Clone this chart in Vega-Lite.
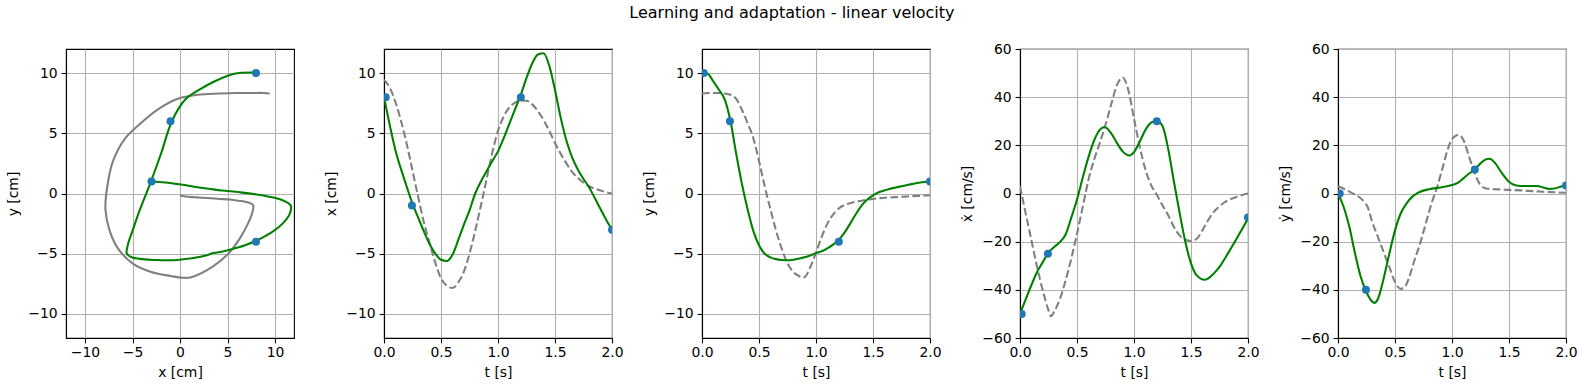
{
  "$schema": "https://vega.github.io/schema/vega-lite/v6.json",
  "padding": {"left": 6, "top": 5, "right": 5, "bottom": 5},
  "title": {"text": "Learning and adaptation - linear velocity", "font": "DejaVu Sans", "fontSize": 16, "fontWeight": "normal", "color": "black", "anchor": "middle", "frame": "bounds", "offset": 20},
  "config": {
    "view": {"stroke": "black", "strokeWidth": 1.1},
    "axis": {"grid": true, "gridColor": "#b0b0b0", "gridWidth": 1.1, "domainColor": "black", "domainWidth": 1.1, "tickColor": "black", "tickSize": 4.9, "tickWidth": 1.1, "labelFont": "DejaVu Sans", "labelFontSize": 13.9, "labelColor": "black", "labelPadding": 4, "labelFlush": false, "labelOverlap": false, "labelBound": false, "titleFont": "DejaVu Sans", "titleFontSize": 13.9, "titleFontWeight": "normal", "titleColor": "black", "titlePadding": 5},
    "axisX": {"labelPadding": 2.5, "titlePadding": 6},
    "axisY": {"titlePadding": 7}
  },
  "datasets": {
    "pos": [
      {"s":"fit","t":0.00,"x":8.0,"y":10.05},{"s":"fit","t":0.05,"x":5.7,"y":9.95},{"s":"fit","t":0.10,"x":3.6,"y":9.3},{"s":"fit","t":0.15,"x":2.0,"y":8.6},{"s":"fit","t":0.20,"x":0.55,"y":7.8},{"s":"fit","t":0.25,"x":-0.85,"y":6.0},{"s":"fit","t":0.30,"x":-2.0,"y":3.3},{"s":"fit","t":0.35,"x":-3.15,"y":0.8},{"s":"fit","t":0.40,"x":-4.2,"y":-1.3},{"s":"fit","t":0.45,"x":-5.0,"y":-3.1},{"s":"fit","t":0.50,"x":-5.5,"y":-4.3},{"s":"fit","t":0.55,"x":-5.6,"y":-5.0},{"s":"fit","t":0.60,"x":-5.1,"y":-5.3},{"s":"fit","t":0.65,"x":-3.9,"y":-5.45},{"s":"fit","t":0.70,"x":-2.6,"y":-5.52},{"s":"fit","t":0.75,"x":-1.4,"y":-5.55},{"s":"fit","t":0.80,"x":0.0,"y":-5.5},{"s":"fit","t":0.85,"x":1.0,"y":-5.4},{"s":"fit","t":0.90,"x":1.85,"y":-5.3},{"s":"fit","t":0.95,"x":2.7,"y":-5.15},{"s":"fit","t":1.00,"x":3.5,"y":-4.95},{"s":"fit","t":1.05,"x":4.6,"y":-4.8},{"s":"fit","t":1.10,"x":5.8,"y":-4.55},{"s":"fit","t":1.15,"x":7.0,"y":-4.25},{"s":"fit","t":1.20,"x":8.2,"y":-3.85},{"s":"fit","t":1.25,"x":9.6,"y":-3.25},{"s":"fit","t":1.30,"x":10.8,"y":-2.5},{"s":"fit","t":1.35,"x":11.55,"y":-1.7},{"s":"fit","t":1.40,"x":11.65,"y":-1.0},{"s":"fit","t":1.45,"x":10.6,"y":-0.5},{"s":"fit","t":1.50,"x":8.6,"y":-0.15},{"s":"fit","t":1.55,"x":6.3,"y":0.1},{"s":"fit","t":1.60,"x":4.4,"y":0.25},{"s":"fit","t":1.65,"x":3.0,"y":0.4},{"s":"fit","t":1.70,"x":2.0,"y":0.5},{"s":"fit","t":1.75,"x":1.2,"y":0.6},{"s":"fit","t":1.80,"x":0.5,"y":0.7},{"s":"fit","t":1.85,"x":-0.4,"y":0.8},{"s":"fit","t":1.90,"x":-1.3,"y":0.9},{"s":"fit","t":1.95,"x":-2.2,"y":0.95},{"s":"fit","t":2.00,"x":-3.0,"y":1.0},
      {"s":"demo","t":0.00,"x":9.45,"y":8.3},{"s":"demo","t":0.05,"x":8.8,"y":8.35},{"s":"demo","t":0.10,"x":7.6,"y":8.35},{"s":"demo","t":0.15,"x":6.0,"y":8.35},{"s":"demo","t":0.20,"x":4.1,"y":8.3},{"s":"demo","t":0.25,"x":1.9,"y":8.2},{"s":"demo","t":0.30,"x":-0.3,"y":7.85},{"s":"demo","t":0.35,"x":-2.4,"y":6.95},{"s":"demo","t":0.40,"x":-4.1,"y":5.85},{"s":"demo","t":0.45,"x":-5.75,"y":4.6},{"s":"demo","t":0.50,"x":-7.05,"y":2.7},{"s":"demo","t":0.55,"x":-7.65,"y":0.6},{"s":"demo","t":0.60,"x":-7.85,"y":-1.3},{"s":"demo","t":0.65,"x":-7.4,"y":-3.1},{"s":"demo","t":0.70,"x":-6.5,"y":-4.6},{"s":"demo","t":0.75,"x":-5.0,"y":-5.8},{"s":"demo","t":0.80,"x":-3.1,"y":-6.5},{"s":"demo","t":0.85,"x":-1.0,"y":-6.85},{"s":"demo","t":0.88,"x":0.3,"y":-7.0},{"s":"demo","t":0.90,"x":1.2,"y":-6.95},{"s":"demo","t":0.95,"x":3.4,"y":-6.1},{"s":"demo","t":1.00,"x":5.2,"y":-4.9},{"s":"demo","t":1.05,"x":6.4,"y":-3.6},{"s":"demo","t":1.10,"x":7.15,"y":-2.5},{"s":"demo","t":1.15,"x":7.55,"y":-1.75},{"s":"demo","t":1.20,"x":7.7,"y":-1.25},{"s":"demo","t":1.25,"x":7.7,"y":-0.95},{"s":"demo","t":1.30,"x":7.4,"y":-0.8},{"s":"demo","t":1.35,"x":6.85,"y":-0.68},{"s":"demo","t":1.40,"x":6.1,"y":-0.6},{"s":"demo","t":1.45,"x":5.2,"y":-0.5},{"s":"demo","t":1.50,"x":4.2,"y":-0.45},{"s":"demo","t":1.55,"x":3.3,"y":-0.4},{"s":"demo","t":1.60,"x":2.5,"y":-0.35},{"s":"demo","t":1.65,"x":1.8,"y":-0.32},{"s":"demo","t":1.70,"x":1.3,"y":-0.3},{"s":"demo","t":1.75,"x":0.9,"y":-0.27},{"s":"demo","t":1.80,"x":0.6,"y":-0.25},{"s":"demo","t":1.85,"x":0.4,"y":-0.22},{"s":"demo","t":1.90,"x":0.25,"y":-0.2},{"s":"demo","t":1.95,"x":0.1,"y":-0.17},{"s":"demo","t":2.00,"x":0.0,"y":-0.15}
    ],
    "vx": [
      {"s":"fit","t":0.00,"v":-50},{"s":"fit","t":0.05,"v":-44},{"s":"fit","t":0.10,"v":-38},{"s":"fit","t":0.15,"v":-32.6},{"s":"fit","t":0.20,"v":-28.5},{"s":"fit","t":0.25,"v":-24.5},{"s":"fit","t":0.30,"v":-22.2},{"s":"fit","t":0.35,"v":-20.2},{"s":"fit","t":0.40,"v":-17},{"s":"fit","t":0.45,"v":-10},{"s":"fit","t":0.50,"v":-2.5},{"s":"fit","t":0.55,"v":6.5},{"s":"fit","t":0.60,"v":15},{"s":"fit","t":0.65,"v":22},{"s":"fit","t":0.70,"v":26.4},{"s":"fit","t":0.74,"v":27.6},{"s":"fit","t":0.80,"v":25},{"s":"fit","t":0.85,"v":21},{"s":"fit","t":0.90,"v":17.5},{"s":"fit","t":0.96,"v":15.8},{"s":"fit","t":1.00,"v":17.2},{"s":"fit","t":1.05,"v":21.5},{"s":"fit","t":1.10,"v":26.4},{"s":"fit","t":1.15,"v":29.4},{"s":"fit","t":1.20,"v":30.2},{"s":"fit","t":1.25,"v":28},{"s":"fit","t":1.30,"v":18.5},{"s":"fit","t":1.35,"v":5},{"s":"fit","t":1.40,"v":-8},{"s":"fit","t":1.45,"v":-20},{"s":"fit","t":1.50,"v":-29},{"s":"fit","t":1.55,"v":-34},{"s":"fit","t":1.62,"v":-35.8},{"s":"fit","t":1.70,"v":-33.2},{"s":"fit","t":1.75,"v":-30.5},{"s":"fit","t":1.80,"v":-26.8},{"s":"fit","t":1.85,"v":-22.8},{"s":"fit","t":1.90,"v":-18.8},{"s":"fit","t":1.95,"v":-14.6},{"s":"fit","t":2.00,"v":-10.4},
      {"s":"demo","t":0.00,"v":3},{"s":"demo","t":0.05,"v":-8.3},{"s":"demo","t":0.10,"v":-19.4},{"s":"demo","t":0.15,"v":-30.5},{"s":"demo","t":0.20,"v":-40.3},{"s":"demo","t":0.25,"v":-48.5},{"s":"demo","t":0.27,"v":-51},{"s":"demo","t":0.30,"v":-49},{"s":"demo","t":0.35,"v":-43.8},{"s":"demo","t":0.40,"v":-36.1},{"s":"demo","t":0.45,"v":-27},{"s":"demo","t":0.50,"v":-16.7},{"s":"demo","t":0.55,"v":-5.6},{"s":"demo","t":0.60,"v":5.6},{"s":"demo","t":0.65,"v":14},{"s":"demo","t":0.70,"v":21},{"s":"demo","t":0.75,"v":28.5},{"s":"demo","t":0.80,"v":37},{"s":"demo","t":0.85,"v":45},{"s":"demo","t":0.90,"v":48.2},{"s":"demo","t":0.95,"v":43},{"s":"demo","t":1.00,"v":31},{"s":"demo","t":1.05,"v":19.5},{"s":"demo","t":1.10,"v":10},{"s":"demo","t":1.15,"v":3.5},{"s":"demo","t":1.20,"v":-0.5},{"s":"demo","t":1.25,"v":-4.9},{"s":"demo","t":1.30,"v":-9},{"s":"demo","t":1.35,"v":-13.9},{"s":"demo","t":1.40,"v":-17.4},{"s":"demo","t":1.45,"v":-19.2},{"s":"demo","t":1.50,"v":-19.7},{"s":"demo","t":1.55,"v":-18.8},{"s":"demo","t":1.60,"v":-15.3},{"s":"demo","t":1.65,"v":-11.1},{"s":"demo","t":1.70,"v":-7.6},{"s":"demo","t":1.75,"v":-5.3},{"s":"demo","t":1.80,"v":-3.5},{"s":"demo","t":1.85,"v":-2.3},{"s":"demo","t":1.90,"v":-1.4},{"s":"demo","t":1.95,"v":-0.6},{"s":"demo","t":2.00,"v":0}
    ],
    "vy": [
      {"s":"fit","t":0.00,"v":0},{"s":"fit","t":0.05,"v":-5.6},{"s":"fit","t":0.10,"v":-13.9},{"s":"fit","t":0.15,"v":-25},{"s":"fit","t":0.20,"v":-34.7},{"s":"fit","t":0.25,"v":-41},{"s":"fit","t":0.30,"v":-44.9},{"s":"fit","t":0.32,"v":-45.4},{"s":"fit","t":0.35,"v":-43.8},{"s":"fit","t":0.40,"v":-35.4},{"s":"fit","t":0.45,"v":-25},{"s":"fit","t":0.50,"v":-15.3},{"s":"fit","t":0.55,"v":-8.3},{"s":"fit","t":0.60,"v":-4.2},{"s":"fit","t":0.65,"v":-1.4},{"s":"fit","t":0.70,"v":0.3},{"s":"fit","t":0.80,"v":1.8},{"s":"fit","t":0.90,"v":2.5},{"s":"fit","t":1.00,"v":3.5},{"s":"fit","t":1.05,"v":4.4},{"s":"fit","t":1.10,"v":6.3},{"s":"fit","t":1.15,"v":8.3},{"s":"fit","t":1.20,"v":10},{"s":"fit","t":1.25,"v":12.5},{"s":"fit","t":1.30,"v":14.2},{"s":"fit","t":1.33,"v":14.4},{"s":"fit","t":1.38,"v":12.5},{"s":"fit","t":1.43,"v":9},{"s":"fit","t":1.50,"v":4.9},{"s":"fit","t":1.55,"v":3.5},{"s":"fit","t":1.60,"v":3.1},{"s":"fit","t":1.70,"v":3.1},{"s":"fit","t":1.75,"v":3.1},{"s":"fit","t":1.80,"v":2.5},{"s":"fit","t":1.85,"v":1.9},{"s":"fit","t":1.90,"v":2.1},{"s":"fit","t":1.95,"v":2.8},{"s":"fit","t":2.00,"v":3.5},
      {"s":"demo","t":0.00,"v":3},{"s":"demo","t":0.05,"v":2},{"s":"demo","t":0.10,"v":0.8},{"s":"demo","t":0.15,"v":-0.5},{"s":"demo","t":0.20,"v":-2},{"s":"demo","t":0.23,"v":-3.5},{"s":"demo","t":0.26,"v":-5.6},{"s":"demo","t":0.30,"v":-11.8},{"s":"demo","t":0.35,"v":-18},{"s":"demo","t":0.40,"v":-24.3},{"s":"demo","t":0.45,"v":-30.5},{"s":"demo","t":0.50,"v":-36.8},{"s":"demo","t":0.55,"v":-39.6},{"s":"demo","t":0.58,"v":-39.2},{"s":"demo","t":0.62,"v":-35.4},{"s":"demo","t":0.67,"v":-27.8},{"s":"demo","t":0.72,"v":-20.8},{"s":"demo","t":0.77,"v":-12.5},{"s":"demo","t":0.82,"v":-4.2},{"s":"demo","t":0.87,"v":2.8},{"s":"demo","t":0.92,"v":11.1},{"s":"demo","t":0.97,"v":19.4},{"s":"demo","t":1.02,"v":23.6},{"s":"demo","t":1.06,"v":24.3},{"s":"demo","t":1.10,"v":22.2},{"s":"demo","t":1.15,"v":15.3},{"s":"demo","t":1.20,"v":8.3},{"s":"demo","t":1.25,"v":3.5},{"s":"demo","t":1.30,"v":2.1},{"s":"demo","t":1.40,"v":1.7},{"s":"demo","t":1.50,"v":1.5},{"s":"demo","t":1.60,"v":1.3},{"s":"demo","t":1.70,"v":1.0},{"s":"demo","t":1.80,"v":0.7},{"s":"demo","t":1.90,"v":0.5},{"s":"demo","t":2.00,"v":0.3}
    ],
    "via": [
      {"t":0.015,"x":8,"y":10,"vx":-50,"vy":0},
      {"t":0.245,"x":-1,"y":6,"vx":-25,"vy":-40},
      {"t":1.2,"x":8,"y":-4,"vx":30,"vy":10},
      {"t":2.0,"x":-3,"y":1,"vx":-10,"vy":3.3}
    ]
  },
  "spacing": 90,
  "bounds": "flush",
  "hconcat": [
    {
      "width": 228, "height": 289,
      "encoding": {
        "x": {"field": "x", "type": "quantitative", "scale": {"domain": [-12, 12], "nice": false, "zero": false}, "axis": {"title": "x [cm]", "values": [-10, -5, 0, 5, 10]}},
        "y": {"field": "y", "type": "quantitative", "scale": {"domain": [-12, 12], "nice": false, "zero": false}, "axis": {"title": "y [cm]", "values": [-10, -5, 0, 5, 10]}},
        "order": {"field": "t", "type": "quantitative"}
      },
      "layer": [
        {"data": {"name": "pos"}, "transform": [{"filter": "datum.s == 'demo'"}], "mark": {"type": "line", "color": "#808080", "strokeWidth": 2.08, "interpolate": "catmull-rom", "clip": true}},
        {"data": {"name": "pos"}, "transform": [{"filter": "datum.s == 'fit'"}], "mark": {"type": "line", "color": "#008000", "strokeWidth": 2.08, "interpolate": "catmull-rom", "clip": true}},
        {"data": {"name": "via"}, "mark": {"type": "point", "filled": true, "shape": "circle", "size": 64, "color": "#1f77b4", "opacity": 1, "clip": true}}
      ]
    },
    {
      "width": 228, "height": 289,
      "encoding": {
        "x": {"field": "t", "type": "quantitative", "scale": {"domain": [0, 2], "nice": false, "zero": false}, "axis": {"title": "t [s]", "values": [0, 0.5, 1, 1.5, 2], "format": ".1f"}},
        "y": {"field": "x", "type": "quantitative", "scale": {"domain": [-12, 12], "nice": false, "zero": false}, "axis": {"title": "x [cm]", "values": [-10, -5, 0, 5, 10]}}
      },
      "layer": [
        {"data": {"name": "pos"}, "transform": [{"filter": "datum.s == 'demo'"}], "mark": {"type": "line", "color": "#808080", "strokeWidth": 2.08, "strokeDash": [7.7, 3.3], "interpolate": "monotone", "clip": true}},
        {"data": {"name": "pos"}, "transform": [{"filter": "datum.s == 'fit'"}], "mark": {"type": "line", "color": "#008000", "strokeWidth": 2.08, "interpolate": "monotone", "clip": true}},
        {"data": {"name": "via"}, "mark": {"type": "point", "filled": true, "shape": "circle", "size": 64, "color": "#1f77b4", "opacity": 1, "clip": true}}
      ]
    },
    {
      "width": 228, "height": 289,
      "encoding": {
        "x": {"field": "t", "type": "quantitative", "scale": {"domain": [0, 2], "nice": false, "zero": false}, "axis": {"title": "t [s]", "values": [0, 0.5, 1, 1.5, 2], "format": ".1f"}},
        "y": {"field": "y", "type": "quantitative", "scale": {"domain": [-12, 12], "nice": false, "zero": false}, "axis": {"title": "y [cm]", "values": [-10, -5, 0, 5, 10]}}
      },
      "layer": [
        {"data": {"name": "pos"}, "transform": [{"filter": "datum.s == 'demo'"}], "mark": {"type": "line", "color": "#808080", "strokeWidth": 2.08, "strokeDash": [7.7, 3.3], "interpolate": "monotone", "clip": true}},
        {"data": {"name": "pos"}, "transform": [{"filter": "datum.s == 'fit'"}], "mark": {"type": "line", "color": "#008000", "strokeWidth": 2.08, "interpolate": "monotone", "clip": true}},
        {"data": {"name": "via"}, "mark": {"type": "point", "filled": true, "shape": "circle", "size": 64, "color": "#1f77b4", "opacity": 1, "clip": true}}
      ]
    },
    {
      "width": 228, "height": 289,
      "layer": [
        {"data": {"name": "vx"}, "transform": [{"filter": "datum.s == 'demo'"}], "mark": {"type": "line", "color": "#808080", "strokeWidth": 2.08, "strokeDash": [7.7, 3.3], "interpolate": "monotone", "clip": true},
         "encoding": {
           "x": {"field": "t", "type": "quantitative", "scale": {"domain": [0, 2], "nice": false, "zero": false}, "axis": {"title": "t [s]", "values": [0, 0.5, 1, 1.5, 2], "format": ".1f"}},
           "y": {"field": "v", "type": "quantitative", "scale": {"domain": [-60, 60], "nice": false, "zero": false}, "axis": {"title": "ẋ [cm/s]", "values": [-60, -40, -20, 0, 20, 40, 60]}}}},
        {"data": {"name": "vx"}, "transform": [{"filter": "datum.s == 'fit'"}], "mark": {"type": "line", "color": "#008000", "strokeWidth": 2.08, "interpolate": "monotone", "clip": true},
         "encoding": {
           "x": {"field": "t", "type": "quantitative", "scale": {"domain": [0, 2], "nice": false, "zero": false}, "axis": {"title": "t [s]", "values": [0, 0.5, 1, 1.5, 2], "format": ".1f"}},
           "y": {"field": "v", "type": "quantitative", "scale": {"domain": [-60, 60], "nice": false, "zero": false}, "axis": {"title": "ẋ [cm/s]", "values": [-60, -40, -20, 0, 20, 40, 60]}}}},
        {"data": {"name": "via"}, "mark": {"type": "point", "filled": true, "shape": "circle", "size": 64, "color": "#1f77b4", "opacity": 1, "clip": true},
         "encoding": {
           "x": {"field": "t", "type": "quantitative", "scale": {"domain": [0, 2], "nice": false, "zero": false}, "axis": {"title": "t [s]", "values": [0, 0.5, 1, 1.5, 2], "format": ".1f"}},
           "y": {"field": "vx", "type": "quantitative", "scale": {"domain": [-60, 60], "nice": false, "zero": false}, "axis": {"title": "ẋ [cm/s]", "values": [-60, -40, -20, 0, 20, 40, 60]}}}}
      ]
    },
    {
      "width": 228, "height": 289,
      "layer": [
        {"data": {"name": "vy"}, "transform": [{"filter": "datum.s == 'demo'"}], "mark": {"type": "line", "color": "#808080", "strokeWidth": 2.08, "strokeDash": [7.7, 3.3], "interpolate": "monotone", "clip": true},
         "encoding": {
           "x": {"field": "t", "type": "quantitative", "scale": {"domain": [0, 2], "nice": false, "zero": false}, "axis": {"title": "t [s]", "values": [0, 0.5, 1, 1.5, 2], "format": ".1f"}},
           "y": {"field": "v", "type": "quantitative", "scale": {"domain": [-60, 60], "nice": false, "zero": false}, "axis": {"title": "ẏ [cm/s]", "values": [-60, -40, -20, 0, 20, 40, 60]}}}},
        {"data": {"name": "vy"}, "transform": [{"filter": "datum.s == 'fit'"}], "mark": {"type": "line", "color": "#008000", "strokeWidth": 2.08, "interpolate": "monotone", "clip": true},
         "encoding": {
           "x": {"field": "t", "type": "quantitative", "scale": {"domain": [0, 2], "nice": false, "zero": false}, "axis": {"title": "t [s]", "values": [0, 0.5, 1, 1.5, 2], "format": ".1f"}},
           "y": {"field": "v", "type": "quantitative", "scale": {"domain": [-60, 60], "nice": false, "zero": false}, "axis": {"title": "ẏ [cm/s]", "values": [-60, -40, -20, 0, 20, 40, 60]}}}},
        {"data": {"name": "via"}, "mark": {"type": "point", "filled": true, "shape": "circle", "size": 64, "color": "#1f77b4", "opacity": 1, "clip": true},
         "encoding": {
           "x": {"field": "t", "type": "quantitative", "scale": {"domain": [0, 2], "nice": false, "zero": false}, "axis": {"title": "t [s]", "values": [0, 0.5, 1, 1.5, 2], "format": ".1f"}},
           "y": {"field": "vy", "type": "quantitative", "scale": {"domain": [-60, 60], "nice": false, "zero": false}, "axis": {"title": "ẏ [cm/s]", "values": [-60, -40, -20, 0, 20, 40, 60]}}}}
      ]
    }
  ]
}
